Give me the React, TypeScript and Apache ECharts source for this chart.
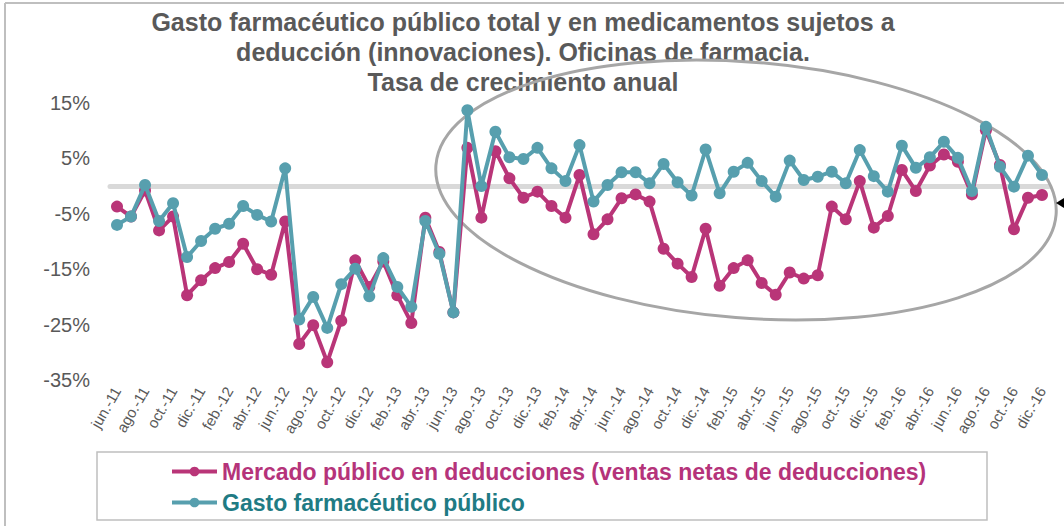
import React, { useEffect, useRef } from "react";
import * as echarts from "echarts";

const categories = [
  "jun.-11", "jul.-11", "ago.-11", "sep.-11", "oct.-11", "nov.-11", "dic.-11",
  "ene.-12", "feb.-12", "mar.-12", "abr.-12", "may.-12", "jun.-12", "jul.-12", "ago.-12", "sep.-12", "oct.-12", "nov.-12", "dic.-12",
  "ene.-13", "feb.-13", "mar.-13", "abr.-13", "may.-13", "jun.-13", "jul.-13", "ago.-13", "sep.-13", "oct.-13", "nov.-13", "dic.-13",
  "ene.-14", "feb.-14", "mar.-14", "abr.-14", "may.-14", "jun.-14", "jul.-14", "ago.-14", "sep.-14", "oct.-14", "nov.-14", "dic.-14",
  "ene.-15", "feb.-15", "mar.-15", "abr.-15", "may.-15", "jun.-15", "jul.-15", "ago.-15", "sep.-15", "oct.-15", "nov.-15", "dic.-15",
  "ene.-16", "feb.-16", "mar.-16", "abr.-16", "may.-16", "jun.-16", "jul.-16", "ago.-16", "sep.-16", "oct.-16", "nov.-16", "dic.-16",
];

const mercadoDeducciones = [
  -3.7, -5.5, -0.8, -8.0, -5.5, -19.7, -17.0,
  -14.8, -13.7, -10.4, -15.0, -16.0, -6.4, -28.5, -25.1, -31.8, -24.3, -13.4, -18.2,
  -13.6, -19.7, -24.7, -5.7, -11.9, -22.8, 6.9, -5.7, 6.3, 1.4, -2.1, -1.0,
  -3.6, -5.7, 2.0, -8.7, -6.0, -2.2, -1.5, -2.8, -11.3, -14.0, -16.4, -7.7,
  -18.0, -14.8, -13.4, -17.5, -19.6, -15.6, -16.7, -16.1, -3.7, -6.0, 0.9, -7.5,
  -5.4, 2.9, -0.9, 3.7, 5.7, 4.4, -1.5, 10.1, 3.8, -7.8, -2.1, -1.6,
];

const gastoFarmaceutico = [
  -7.0, -5.5, 0.2, -6.3, -3.1, -12.8, -9.9,
  -7.7, -6.8, -3.6, -5.2, -6.4, 3.2, -24.1, -20.0, -25.6, -17.7, -14.9, -19.9,
  -13.0, -18.2, -21.8, -6.3, -12.2, -22.8, 13.7, 0.0, 9.8, 5.2, 4.9, 6.9,
  3.2, 0.9, 7.4, -2.8, 0.2, 2.5, 2.5, 0.5, 4.0, 0.7, -1.7, 6.6,
  -1.3, 2.6, 4.2, 0.9, -1.9, 4.6, 1.1, 1.7, 2.6, 0.5, 6.5, 1.8,
  -1.0, 7.3, 3.3, 5.2, 8.0, 5.1, -0.9, 10.7, 3.5, -0.1, 5.5, 2.0,
];

const seriesNames = [
  "Mercado público en deducciones (ventas netas de deducciones)",
  "Gasto farmacéutico público",
];

const titleLines = [
  "Gasto farmacéutico público total y en medicamentos sujetos a",
  "deducción (innovaciones). Oficinas de farmacia.",
  "Tasa de crecimiento anual",
];

const MAGENTA = "#b93578";
const TEAL = "#579fae";
const FONT = "'Liberation Sans', Arial, sans-serif";

export default function App() {
  const ref = useRef<HTMLDivElement>(null);

  useEffect(() => {
    const chart = echarts.init(ref.current!, null, { renderer: "svg" });
    chart.setOption({
      animation: false,
      backgroundColor: "#ffffff",
      grid: { left: 110, top: 103, width: 939, height: 277, containLabel: false },
      xAxis: [
        {
          type: "category",
          data: categories,
          boundaryGap: true,
          position: "bottom",
          axisLine: { show: false, onZero: false },
          axisTick: { show: false },
          splitLine: { show: false },
          axisLabel: {
            interval: 1,
            rotate: 60,
            margin: 8,
            color: "#595959",
            fontSize: 15,
            fontFamily: FONT,
          },
        },
        {
          type: "category",
          data: categories,
          boundaryGap: true,
          position: "top",
          axisLine: { show: true, onZero: true, lineStyle: { color: "#d9d9d9", width: 5 } },
          axisTick: { show: false },
          axisLabel: { show: false },
          splitLine: { show: false },
        },
      ],
      yAxis: {
        type: "value",
        min: -35,
        max: 15,
        interval: 10,
        axisLine: { show: false },
        axisTick: { show: false },
        splitLine: { show: false },
        axisLabel: {
          formatter: "{value}%",
          color: "#595959",
          fontSize: 20,
          margin: 20,
          fontFamily: FONT,
        },
      },
      legend: {
        orient: "vertical",
        left: 165,
        top: 455,
        itemWidth: 45,
        itemHeight: 12,
        itemGap: 8,
        lineStyle: { width: 4 },
        textStyle: { fontSize: 23, fontWeight: "bold", fontFamily: FONT },
        data: [
          { name: seriesNames[0], textStyle: { color: "#b5337a" } },
          { name: seriesNames[1], textStyle: { color: "#1f7b84" } },
        ],
      },
      series: [
        {
          name: seriesNames[0],
          type: "line",
          data: mercadoDeducciones,
          symbol: "circle",
          symbolSize: 12,
          showSymbol: true,
          showAllSymbol: true,
          lineStyle: { width: 4, color: MAGENTA },
          itemStyle: { color: MAGENTA },
          z: 3,
        },
        {
          name: seriesNames[1],
          type: "line",
          data: gastoFarmaceutico,
          symbol: "circle",
          symbolSize: 12,
          showSymbol: true,
          showAllSymbol: true,
          lineStyle: { width: 4, color: TEAL },
          itemStyle: { color: TEAL },
          z: 4,
        },
      ],
      graphic: [
        { type: "line", z: 0, shape: { x1: 5, y1: 3, x2: 5, y2: 526 }, style: { stroke: "#bfbfbf", lineWidth: 2 } },
        { type: "line", z: 0, shape: { x1: 5, y1: 3, x2: 1064, y2: 3 }, style: { stroke: "#bfbfbf", lineWidth: 2 } },
        ...titleLines.map((t, i) => ({
          type: "text",
          z: 1,
          x: 523,
          y: 22 + i * 30,
          style: {
            text: t,
            fill: "#595959",
            font: `bold 25px ${FONT}`,
            textAlign: "center",
            textVerticalAlign: "middle",
          },
        })),
        {
          type: "ellipse",
          z: 2,
          x: 746,
          y: 190,
          rotation: -0.08,
          shape: { cx: 0, cy: 0, rx: 311, ry: 128 },
          style: { fill: "none", stroke: "#a6a6a6", lineWidth: 3 },
        },
        {
          type: "polygon",
          z: 2,
          shape: { points: [[1056, 203], [1064, 198], [1064, 208]] },
          style: { fill: "#000000" },
        },
        {
          type: "rect",
          z: 0,
          shape: { x: 97, y: 452, width: 890, height: 68 },
          style: { fill: "none", stroke: "#bfbfbf", lineWidth: 1.5 },
        },
      ],
    });
    return () => chart.dispose();
  }, []);

  return (
    <div
      ref={ref}
      style={{ position: "fixed", left: 0, top: 0, width: 1064, height: 526, background: "#fff" }}
    />
  );
}
